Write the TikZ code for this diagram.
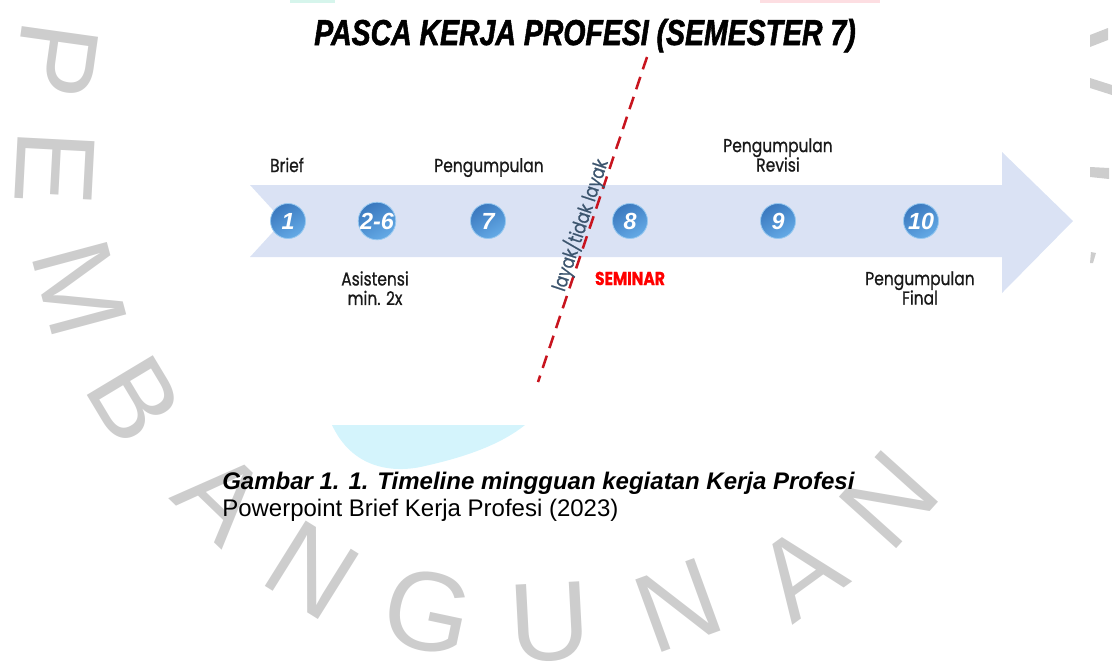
\documentclass[tikz,border=0pt]{standalone}
\usepackage{fontspec}
\setmainfont{Liberation Sans}
\newfontfamily\ttlfont{Liberation Sans}[FakeStretch=0.79,FakeBold=1.5]
\newfontfamily\lblfont{Poppins}[FakeStretch=0.83,FakeBold=0.8]
\definecolor{band}{RGB}{218,226,244}
\definecolor{wmgrey}{RGB}{205,205,205}
\definecolor{wmcyan}{RGB}{212,244,252}
\definecolor{wmgreen}{RGB}{214,245,236}
\definecolor{wmpink}{RGB}{253,222,226}
\definecolor{balltop}{RGB}{58,120,190}
\definecolor{ballbot}{RGB}{100,170,230}
\definecolor{ballrim}{RGB}{150,200,240}
\definecolor{lbltext}{RGB}{25,25,25}
\definecolor{dashred}{RGB}{200,20,30}
\definecolor{slate}{RGB}{60,85,110}
\begin{document}
\begin{tikzpicture}[x=0.75pt,y=-0.75pt,
  wm/.style={text=wmgrey, font=\fontsize{84}{84}\selectfont, inner sep=0},
  ball/.style={circle, minimum size=26.25pt, inner sep=0, top color=balltop, bottom color=ballbot, shading angle=30, draw=ballrim, line width=0.6pt, text=white, font=\bfseries\itshape\fontsize{17.5}{17.5}\selectfont},
  lbl/.style={font=\lblfont\fontsize{14}{14.6}\selectfont, inner sep=0, align=center, text=lbltext},
  redline/.style={draw=dashred, line width=1.9pt, dash pattern=on 9.75pt off 6pt},
  captext/.style={anchor=base west, inner sep=0, text=black}]
\useasboundingbox (0,0) rectangle (1112,661);
% watermark
\fill[wmcyan] (332,425) .. controls (352,468) and (392,474) .. (425,466) .. controls (465,457) and (500,445) .. (525,425) -- cycle;
\fill[wmgreen] (290,0) rectangle (335,3);
\fill[wmpink] (760,0) rectangle (880,3);
\node[wm, rotate=-98] (w1) at (56,60) {P};
\node[wm, rotate=-93] (w2) at (55,168) {E};
\node[wm, rotate=-75] (w3) at (80,289) {M};
\node[wm, rotate=-59] (w4) at (135,400) {B};
\node[wm, rotate=-44] (w5) at (222,497) {A};
\node[wm, rotate=-32] (w6) at (312,570) {N};
\node[wm, rotate=-12] (w7) at (428,612) {G};
\node[wm, rotate=3] (w8) at (550,622) {U};
\node[wm, rotate=20] (w9) at (678,605) {N};
\node[wm, rotate=36] (w10) at (800,572) {A};
\node[wm, rotate=48] (w11) at (889,500) {N};
\fill[wmgrey] (1090,35) -- (1108,28) -- (1108,40) -- (1090,47) -- cycle;
\fill[wmgrey] (1090,78) -- (1112,85) -- (1112,95) -- (1090,88) -- cycle;
\fill[wmgrey] (1090,167) -- (1109,168) -- (1109,179) -- (1090,177) -- cycle;
\fill[wmgrey] (1091,252) -- (1096,253) -- (1093,263) -- (1090,263) -- cycle;
% timeline arrow
\fill[band] (250,185) -- (1002,185) -- (1002,152) -- (1073,221) -- (1002,293) -- (1002,257) -- (250,257) -- (283,221) -- cycle;
% week circles
\node[ball] (c1) at (288,221) {1};
\node[ball] (c2) at (377,221) {2-6};
\node[ball] (c7) at (488,221) {7};
\node[ball] (c8) at (630,221) {8};
\node[ball] (c9) at (778,221) {9};
\node[ball] (c10) at (921,221) {10};
% labels
\node[lbl, anchor=base] (lbrief) at (287,172) {Brief};
\node[lbl, anchor=base] (lpeng) at (489,172) {Pengumpulan};
\node[lbl, anchor=north] (lrev) at (778,138) {Pengumpulan\\Revisi};
\node[lbl, anchor=north] (lasis) at (375,271) {Asistensi\\min. 2x};
\node[lbl, anchor=base, text=red, font=\lblfont\bfseries\fontsize{14}{14.6}\selectfont] (lsem) at (630,285) {SEMINAR};
\node[lbl, anchor=north] (lfin) at (920,271) {Pengumpulan\\Final};
% divider
\coordinate (dtop) at (647,57);
\coordinate (dbot) at (538,382);
\draw[redline] (dtop) -- (dbot);
\node[lbl, text=slate, rotate=71.5, font=\lblfont\fontsize{14.5}{15}\selectfont] (llayak) at (580,225) {layak/tidak layak};
% title
\node[anchor=base, inner sep=0, font=\ttlfont\bfseries\itshape\fontsize{27}{30}\selectfont] (title) at (585,45) {PASCA KERJA PROFESI (SEMESTER 7)};
% caption
\node[captext, font=\bfseries\itshape\fontsize{18}{22}\selectfont] (cap1) at (222,489) {Gambar 1. 1. Timeline mingguan kegiatan Kerja Profesi};
\node[captext, font=\fontsize{18}{22}\selectfont] (cap2) at (222,516) {Powerpoint Brief Kerja Profesi (2023)};
\end{tikzpicture}
\end{document}
